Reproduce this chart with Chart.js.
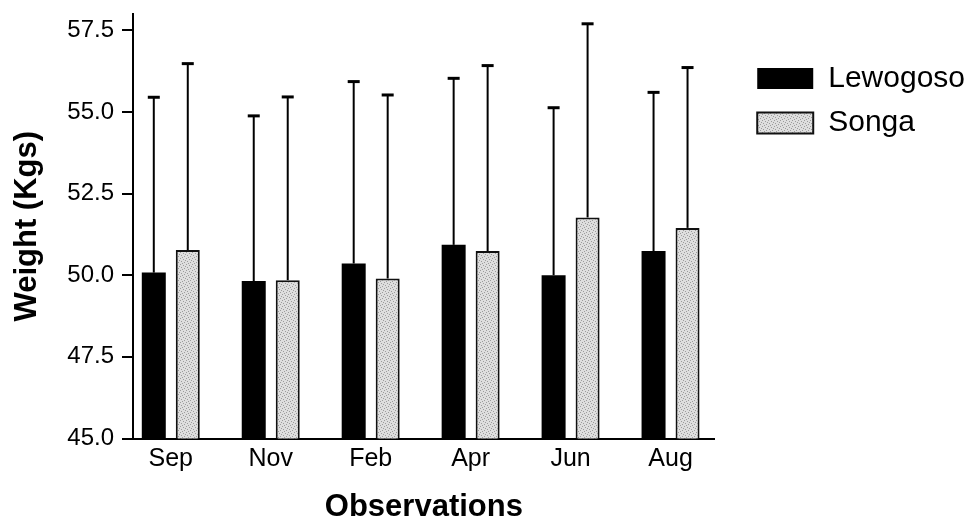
<!DOCTYPE html>
<html>
<head>
<meta charset="utf-8">
<script src="https://cdn.jsdelivr.net/npm/chart.js@4.4.1/dist/chart.umd.min.js"></script>
<style>
  html, body { margin: 0; padding: 0; background: #fff; }
</style>
</head>
<body>
<canvas id="chart" width="970" height="519"></canvas>
<script>
const months = ['Sep', 'Nov', 'Feb', 'Apr', 'Jun', 'Aug'];
const lewogosoMean = [50.08, 49.82, 50.36, 50.93, 50.00, 50.74];
const lewogosoSd = [5.37, 5.06, 5.57, 5.10, 5.13, 4.86];
const songaMean = [50.77, 49.85, 49.90, 50.74, 51.77, 51.45];
const songaSd = [5.71, 5.61, 5.62, 5.68, 5.93, 4.91];
const yTicks = [45, 47.5, 50, 52.5, 55, 57.5];

const FONT = "'Liberation Sans', Arial, Helvetica, sans-serif";

// light grey stipple for the Songa bars
function stipple() {
    const c = document.createElement('canvas');
    c.width = 6;
    c.height = 6;
    const g = c.getContext('2d');
    g.fillStyle = '#dedede';
    g.fillRect(0, 0, 6, 6);
    g.fillStyle = '#9c9c9c';
    [[0, 0], [3, 1], [1, 3], [4, 4], [5, 2], [2, 5]].forEach(([x, y]) => g.fillRect(x, y, 1, 1));
    return g.createPattern(c, 'repeat');
}

const toPoints = (vals) => vals.map((v, i) => ({ x: i, y: v }));

// upward-only SD whiskers with a cap
const errorBars = {
    id: 'errorBars',
    afterDatasetsDraw(chart) {
        const ctx = chart.ctx;
        const yScale = chart.scales.y;
        chart.data.datasets.forEach((ds, di) => {
            chart.getDatasetMeta(di).data.forEach((bar, i) => {
                const top = yScale.getPixelForValue(ds.data[i].y + ds.errors[i]);
                ctx.save();
                ctx.strokeStyle = '#000';
                ctx.lineWidth = 2;
                ctx.beginPath();
                ctx.moveTo(bar.x, bar.y);
                ctx.lineTo(bar.x, top);
                ctx.stroke();
                ctx.lineWidth = 3;
                ctx.beginPath();
                ctx.moveTo(bar.x - 6, top);
                ctx.lineTo(bar.x + 6, top);
                ctx.stroke();
                ctx.restore();
            });
        });
    }
};

// push the legend away from the plot, like the original figure
const legendNudge = {
    id: 'legendNudge',
    afterLayout(chart) {
        const lg = chart.legend;
        lg.left += 28;
        lg.right += 28;
        lg.top += 35;
        lg.bottom += 35;
    }
};

const ctx = document.getElementById('chart').getContext('2d');

new Chart(ctx, {
    type: 'bar',
    data: {
        datasets: [
            {
                label: 'Lewogoso',
                data: toPoints(lewogosoMean),
                errors: lewogosoSd,
                backgroundColor: '#000',
                borderColor: '#000',
                borderWidth: 0
            },
            {
                label: 'Songa',
                data: toPoints(songaMean),
                errors: songaSd,
                backgroundColor: stipple(),
                borderColor: '#111',
                borderWidth: 2
            }
        ]
    },
    options: {
        responsive: false,
        animation: false,
        categoryPercentage: 0.68,
        barPercentage: 0.706,
        layout: { padding: { left: 0, top: 14, right: 23, bottom: 0 } },
        plugins: {
            tooltip: { enabled: false },
            legend: {
                position: 'right',
                align: 'start',
                labels: {
                    boxWidth: 56,
                    boxHeight: 21,
                    padding: 14.5,
                    color: '#000',
                    font: { family: FONT, size: 30 }
                }
            }
        },
        scales: {
            x: {
                type: 'linear',
                min: -0.378,
                max: 5.442,
                offset: false,
                grid: { display: false, drawTicks: false },
                border: { display: true, color: '#000', width: 2 },
                ticks: {
                    stepSize: 1,
                    includeBounds: false,
                    autoSkip: false,
                    maxRotation: 0,
                    padding: 6,
                    color: '#000',
                    font: { family: FONT, size: 25 },
                    callback: (v) => months[v] ?? ''
                },
                title: {
                    display: true,
                    text: 'Observations',
                    color: '#000',
                    font: { family: FONT, size: 31, weight: 'bold', lineHeight: 1 },
                    padding: { top: 11, bottom: -3.5 }
                }
            },
            y: {
                min: 45,
                max: 58,
                afterFit: (s) => { s.width = 133; },
                afterBuildTicks: (s) => { s.ticks = yTicks.map(v => ({ value: v })); },
                grid: { drawOnChartArea: false, color: '#000', lineWidth: 2, tickLength: 11 },
                border: { color: '#000', width: 2 },
                ticks: {
                    padding: 8,
                    color: '#000',
                    font: { family: FONT, size: 24, lineHeight: 0.5 },
                    callback: (v) => v.toFixed(1)
                },
                title: {
                    display: true,
                    text: 'Weight (Kgs)',
                    color: '#000',
                    font: { family: FONT, size: 31, weight: 'bold' },
                    padding: { top: 9, bottom: 0 }
                }
            }
        }
    },
    plugins: [errorBars, legendNudge]
});
</script>
</body>
</html>
